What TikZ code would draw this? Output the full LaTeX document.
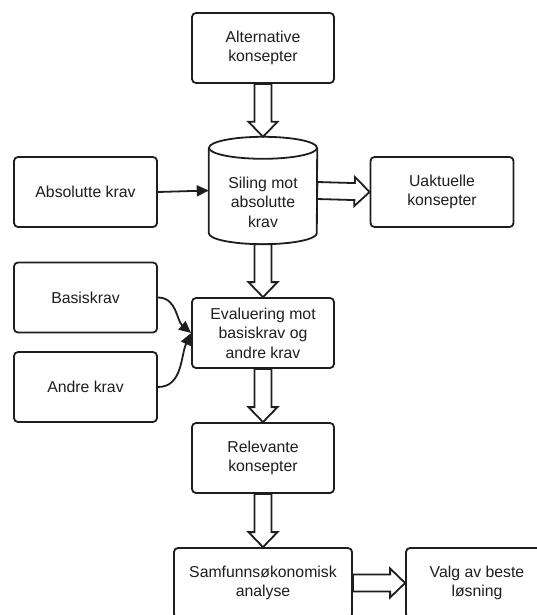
\documentclass[tikz,border=0pt]{standalone}
\usepackage{fontspec}
\setmainfont{Liberation Sans}
\usetikzlibrary{arrows.meta,calc}
\definecolor{ink}{HTML}{1E1E1E}

% hollow block arrow from anchor #1 to anchor #2
\newcommand{\blockarrow}[2]{%
  \coordinate (ba-m) at ($(#2)!15pt!(#1)$);
  \draw[hollowarrow]
    ($(#1)!8.5pt!90:(#2)$) -- ($(ba-m)!8.5pt!90:(#2)$) -- ($(ba-m)!14.5pt!90:(#2)$)
    -- (#2)
    -- ($(ba-m)!14.5pt!-90:(#2)$) -- ($(ba-m)!8.5pt!-90:(#2)$) -- ($(#1)!8.5pt!-90:(#2)$) -- cycle;}

\tikzset{
  box/.style={draw=ink, line width=1.8pt, rounded corners=4pt, fill=white,
    minimum width=142pt, minimum height=70pt, align=center, text=ink,
    font=\fontsize{15.8}{19.5}\selectfont, inner sep=2pt},
  label text/.style={align=center, text=ink, font=\fontsize{15.8}{19.5}\selectfont, inner sep=0pt},
  hollowarrow/.style={draw=ink, line width=1.8pt, fill=white, line join=miter},
  thinarrow/.style={draw=ink, line width=1.8pt, -{Triangle[length=12pt,width=11pt]}},
}

\begin{document}
\begin{tikzpicture}[x=1pt,y=-1pt]
\useasboundingbox (0,0) rectangle (537,615);

% main column
\node[box] (alt)  at (263,48)  {Alternative\\konsepter};
\node[minimum width=108pt, minimum height=107pt, inner sep=0pt] (siling) at (263,190.5) {};
\node[box] (eval) at (263,333) {Evaluering mot\\basiskrav og\\andre krav};
\node[box] (rel)  at (263,458) {Relevante\\konsepter};
\node[box, minimum width=178pt] (samf) at (263,583) {Samfunnsøkonomisk\\analyse};
\node[box] (valg) at (477,583) {Valg av beste\\løsning};

% side boxes
\node[box, minimum width=143pt] (abs)   at (85.5,192)   {Absolutte krav};
\node[box, minimum width=143pt] (uakt)  at (442,192)    {Uaktuelle\\konsepter};
\node[box, minimum width=143pt] (basis) at (85.5,297.5) {Basiskrav};
\node[box, minimum width=143pt] (andre) at (85.5,387)   {Andre krav};

% cylinder outline
\draw[draw=ink, line width=1.8pt, fill=white]
  ([yshift=-11pt]siling.north west) -- ([yshift=11pt]siling.south west)
  arc[start angle=180, end angle=360, x radius=54pt, y radius=11pt]
  -- ([yshift=-11pt]siling.north east);
\draw[draw=ink, line width=1.8pt, fill=white]
  ([yshift=-11pt]siling.north) ellipse[x radius=54pt, y radius=11pt];
\node[label text] (siling-text) at (263,202) {Siling mot\\absolutte\\krav};

% hollow arrows
\blockarrow{alt.south}{siling.north}
\blockarrow{siling.east}{uakt.west}
\blockarrow{siling.south}{eval.north}
\blockarrow{eval.south}{rel.north}
\blockarrow{rel.south}{samf.north}
\blockarrow{samf.east}{valg.west}

% requirement inputs
\draw[thinarrow] (abs.east) -- (siling.west);
\draw[thinarrow] (basis.east) to[out=0, in=140] (eval.west);
\draw[thinarrow] (andre.east) to[out=0, in=-115] (eval.west);
\end{tikzpicture}
\end{document}
